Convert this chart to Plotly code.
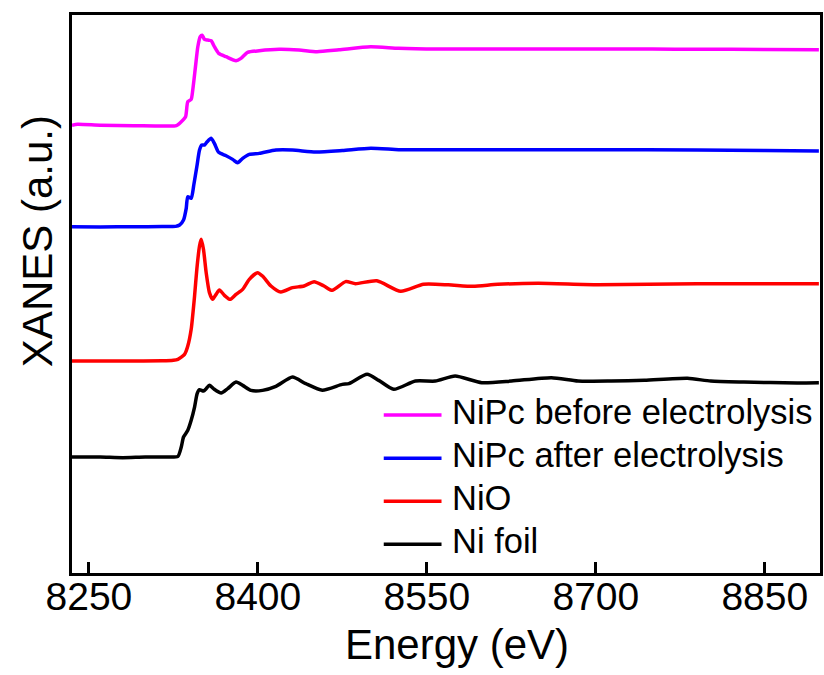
import plotly.graph_objects as go

# ---------------- data (normalized XANES) ----------------
names = ["NiPc before electrolysis", "NiPc after electrolysis", "NiO", "Ni foil"]
colors = ["#FF00FF", "#0000FF", "#FF0000", "#000000"]
offsets = [5.805, 4.497, 2.753, 1.506]

e_nipc_before = [8235, 8240, 8260, 8290, 8315, 8327.6, 8332, 8335.8, 8337.8, 8340.8, 8342.2,
                 8344.6, 8346.7, 8348.8, 8350.6, 8352.6, 8355.5, 8358.5, 8361.4, 8365.2, 8371.8,
                 8380.6, 8385, 8390.9, 8401.2, 8418.9, 8436.6, 8452.5, 8472, 8500, 8525, 8560,
                 8613, 8660, 8702, 8750, 8790, 8850, 8898]
mu_nipc_before = [0.01, 0.022, 0.01, 0.005, 0.0, 0.005, 0.056, 0.12, 0.316, 0.347, 0.468,
                  0.77, 1.03, 1.16, 1.18, 1.126, 1.117, 1.108, 1.03, 0.944, 0.9,
                  0.848, 0.879, 0.957, 0.978, 0.996, 0.987, 0.965, 0.99, 1.03, 1.01, 1.0,
                  1.0, 1.0, 1.0, 1.0, 0.997, 0.995, 0.99]

e_nipc_after = [8235, 8260, 8290, 8315, 8327, 8330.5, 8334, 8336.4, 8337.8, 8340.8, 8343.1,
                8345.8, 8348.2, 8350.2, 8352.6, 8355, 8358.5, 8361.4, 8365.2, 8371.8, 8377.6,
                8382, 8386.5, 8392.4, 8401.2, 8416, 8430.7, 8451.4, 8475, 8500.3, 8525, 8542.7,
                8613.4, 8701.8, 8790.2, 8850, 8898]
mu_nipc_after = [0.0, -0.003, 0.0, 0.002, 0.005, 0.022, 0.087, 0.239, 0.39, 0.369, 0.542,
                 0.779, 0.996, 1.061, 1.061, 1.104, 1.148, 1.083, 0.966, 0.922, 0.875,
                 0.831, 0.888, 0.94, 0.953, 0.996, 0.996, 0.97, 0.99, 1.02, 1.0, 1.0,
                 1.0, 1.0, 0.996, 0.99, 0.983]

e_nio = [8235, 8260, 8290, 8315, 8325, 8329, 8334.9, 8337.8, 8340.8, 8343.8, 8345.8, 8348.2,
         8349.7, 8351.7, 8354.1, 8357, 8359.9, 8362.9, 8365.9, 8370.3, 8375.3, 8380.6, 8386.5,
         8392.4, 8399.7, 8404.1, 8411.6, 8420.4, 8430.7, 8441, 8449.9, 8458.7, 8466, 8477.9,
         8486.7, 8505.6, 8526.8, 8547, 8569, 8591, 8613, 8649, 8702, 8790, 8898]
mu_nio = [0.0, 0.0, 0.0, 0.002, 0.01, 0.022, 0.087, 0.195, 0.412, 0.844, 1.191, 1.494,
          1.581, 1.451, 1.148, 0.888, 0.801, 0.866, 0.922, 0.853, 0.801, 0.866, 0.931,
          1.061, 1.148, 1.104, 0.974, 0.896, 0.953, 0.974, 1.031, 0.974, 0.918, 1.031,
          1.005, 1.042, 0.905, 0.996, 0.99, 0.97, 0.996, 1.009, 0.99, 1.003, 1.003]

e_ni_foil = [8235, 8260, 8280, 8300, 8320, 8329, 8332, 8334, 8337.8, 8340.8, 8343.8, 8346.1,
             8348.2, 8351.7, 8354.1, 8357, 8360.6, 8367.4, 8373.2, 8380.6, 8386.5, 8393.9,
             8404.1, 8416, 8430.7, 8442.5, 8457.2, 8474.9, 8480.8, 8497, 8507.3, 8520.6,
             8539.8, 8557.5, 8575.1, 8598.7, 8625.2, 8660.6, 8684.2, 8713.6, 8743.1, 8781.4,
             8802, 8831.5, 8878.7, 8898]
mu_ni_foil = [0.0, 0.0, -0.008, 0.0, 0.0, 0.009, 0.13, 0.26, 0.347, 0.477, 0.649, 0.823,
              0.875, 0.857, 0.888, 0.931, 0.888, 0.831, 0.888, 0.974, 0.931, 0.866,
              0.866, 0.918, 1.039, 0.953, 0.869, 0.944, 0.953, 1.074, 0.996, 0.879,
              0.987, 0.987, 1.052, 0.966, 0.987, 1.031, 0.987, 0.987, 0.996, 1.022,
              0.987, 0.974, 0.961, 0.964]

energies = [e_nipc_before, e_nipc_after, e_nio, e_ni_foil]
mus = [mu_nipc_before, mu_nipc_after, mu_nio, mu_ni_foil]

x_ticks = [8250, 8400, 8550, 8700, 8850]
x_range = [8235, 8899]
y_range = [0, 7.247]

FONT = "Liberation Sans, Arial, sans-serif"

# layout geometry (pixels)
W, H = 824, 675
L, R, T, B = 72, 1, 15, 102
PW, PH = W - L - R, H - T - B


def px_x(x):
    return (x - L) / PW


def px_y(y):
    return (H - B - y) / PH


fig = go.Figure()
for name, col, off, e, mu in zip(names, colors, offsets, energies, mus):
    fig.add_trace(go.Scatter(
        x=e, y=[v + off for v in mu], mode="lines", name=name,
        line=dict(color=col, width=3.5, shape="spline", smoothing=0.6),
        showlegend=False,
    ))

# empty helper trace so the tick-label axis (x2) is rendered
fig.add_trace(go.Scatter(x=x_range, y=[None, None], xaxis="x2", yaxis="y",
                         mode="lines", showlegend=False, hoverinfo="skip"))

# legend drawn as paper-referenced sample lines + text
legend_rows_y = [415, 458.3, 501.3, 544.3]
shapes = []
annotations = []
for name, col, yy in zip(names, colors, legend_rows_y):
    shapes.append(dict(type="line", xref="paper", yref="paper",
                       x0=px_x(385), x1=px_x(443), y0=px_y(yy), y1=px_y(yy),
                       line=dict(color=col, width=3.5)))
    annotations.append(dict(text=name, xref="paper", yref="paper",
                            x=px_x(452), y=px_y(yy - 3), xanchor="left", yanchor="middle",
                            showarrow=False, font=dict(size=34.5, family=FONT, color="black")))

# axis titles
annotations.append(dict(text="Energy (eV)", xref="paper", yref="paper",
                        x=px_x(459), y=px_y(645), xanchor="center", yanchor="middle",
                        showarrow=False, font=dict(size=42, family=FONT, color="black")))
annotations.append(dict(text="XANES (a.u.)", xref="paper", yref="paper", textangle=-90,
                        x=px_x(37), y=px_y(241), xanchor="center", yanchor="middle",
                        showarrow=False, font=dict(size=42, family=FONT, color="black")))

fig.update_layout(
    width=W, height=H,
    margin=dict(l=L, r=R, t=T, b=B),
    plot_bgcolor="white", paper_bgcolor="white",
    font=dict(family=FONT, color="black"),
    showlegend=False,
    shapes=shapes,
    annotations=annotations,
    xaxis=dict(
        range=x_range, tickvals=x_ticks, ticks="inside", ticklen=11, tickwidth=2.5,
        tickcolor="black", showline=True, linewidth=2.5, linecolor="black", mirror=True,
        showgrid=False, zeroline=False, showticklabels=False,
    ),
    xaxis2=dict(
        overlaying="x", anchor="free", position=3 / PH, side="bottom",
        range=x_range, tickvals=x_ticks, ticks="", showline=False, showgrid=False,
        zeroline=False, showticklabels=True,
        tickfont=dict(size=39, family=FONT, color="black"),
    ),
    yaxis=dict(
        range=y_range, showticklabels=False, ticks="", showline=True, linewidth=2.5,
        linecolor="black", mirror=True, showgrid=False, zeroline=False,
    ),
)

fig.write_html("out.html")
